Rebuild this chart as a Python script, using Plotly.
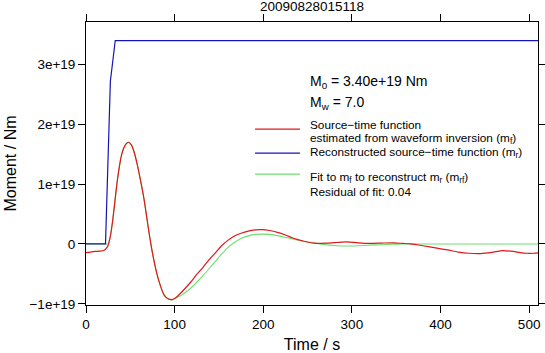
import plotly.graph_objects as go

# ---------------- data ----------------
title_text = "20090828015118"

# time samples (s)
t_f = [0, 5, 10, 15, 20, 23, 25, 27.5, 30, 32.5, 35, 37.5, 40, 42.5, 45, 48, 51, 54,
       57.5, 61, 65, 68, 71, 74, 77, 80, 84, 88, 92, 97, 102, 107, 112, 118, 125,
       132, 139, 146, 153, 160, 167, 175, 183, 191, 199, 207, 216, 225, 234, 245,
       260, 272, 283, 294, 307, 320, 333, 347, 357, 366, 380, 396, 408, 420, 432,
       445, 458, 470, 482, 490, 497, 505, 510]

# source-time function from waveform inversion (m_f), units of 1e19 Nm
m_f = [-0.145, -0.135, -0.125, -0.12, -0.11, -0.07, -0.02, 0.13, 0.38, 0.70, 1.02,
       1.28, 1.48, 1.60, 1.67, 1.70, 1.66, 1.55, 1.35, 1.10, 0.79, 0.50, 0.20, -0.07,
       -0.30, -0.50, -0.70, -0.85, -0.91, -0.93, -0.89, -0.82, -0.74, -0.64, -0.51,
       -0.39, -0.26, -0.15, -0.03, 0.06, 0.13, 0.18, 0.215, 0.235, 0.24, 0.225, 0.195,
       0.15, 0.095, 0.05, 0.01, 0.015, 0.025, 0.035, 0.02, 0.01, 0.015, 0.02, 0.01,
       0.0, -0.03, -0.07, -0.10, -0.135, -0.155, -0.16, -0.14, -0.11, -0.125, -0.145,
       -0.155, -0.155, -0.15]

# fit to m_f used to reconstruct m_r (m_rf), units of 1e19 Nm
m_rf = [0, 0, 0, 0, 0, 0, 0.0, 0.13, 0.38, 0.70, 1.02,
        1.28, 1.48, 1.60, 1.67, 1.70, 1.66, 1.55, 1.35, 1.10, 0.79, 0.50, 0.20, -0.07,
        -0.30, -0.50, -0.70, -0.85, -0.91, -0.935, -0.90, -0.86, -0.81, -0.74, -0.64,
        -0.53, -0.41, -0.29, -0.17, -0.06, 0.02, 0.09, 0.135, 0.16, 0.165, 0.16, 0.14,
        0.11, 0.08, 0.045, 0.01, -0.015, -0.03, -0.035, -0.03, -0.02, -0.012, -0.005,
        0.0, 0.0, 0.0, 0.0, 0.0, 0.0, 0.0, 0.0, 0.0, 0.0, 0.0, 0.0, 0.0, 0.0, 0.0]

# reconstructed source-time function (m_r)
t_r = [0, 22, 27.5, 33, 510]
m_r = [0, 0, 2.72, 3.40, 3.40]

scale = 1e19
x_ticks = [0, 100, 200, 300, 400, 500]
y_tickvals = [-1, 0, 1, 2, 3]
y_ticktext = ["\u22121e+19", "0", "1e+19", "2e+19", "3e+19"]

M0_text = "M<sub>0</sub> = 3.40e+19 Nm"
Mw_text = "M<sub>w</sub> = 7.0"
leg_f = ["Source\u2212time function", "estimated from waveform inversion (m<sub>f</sub>)"]
leg_r = "Reconstructed source\u2212time function (m<sub>r</sub>)"
leg_rf = ["Fit to m<sub>f</sub> to reconstruct m<sub>r</sub> (m<sub>rf</sub>)", "Residual of fit: 0.04"]

RED = "#e01818"
BLUE = "#1414b4"
GREEN = "#6ee06e"

# ---------------- figure ----------------
fig = go.Figure()
fig.add_trace(go.Scatter(x=t_f, y=[v * scale for v in m_rf], mode="lines",
                         line=dict(color=GREEN, width=1.1, shape="spline", smoothing=0.6),
                         hoverinfo="skip"))
fig.add_trace(go.Scatter(x=t_f, y=[v * scale for v in m_f], mode="lines",
                         line=dict(color=RED, width=1.2, shape="spline", smoothing=0.6),
                         hoverinfo="skip"))
fig.add_trace(go.Scatter(x=t_r, y=[v * scale for v in m_r], mode="lines",
                         line=dict(color=BLUE, width=1.2), hoverinfo="skip"))

L, R, T, B = 85.7, 545 - 538.3, 22.3, 353 - 305
W, H = 545, 353
pw, ph = W - L - R, H - T - B


def px(x):
    return (x - L) / pw


def py(y):
    return (H - B - y) / ph


FONT = "Liberation Sans, Arial, Helvetica, sans-serif"

annotations = [
    dict(text=title_text, x=0.5, y=py(6.8), xref="paper", yref="paper",
         showarrow=False, font=dict(size=13.5, color="black"), yanchor="middle"),
    dict(text=M0_text, x=px(308), y=py(82.5), xref="paper", yref="paper",
         showarrow=False, font=dict(size=14, color="black"), xanchor="left", yanchor="middle"),
    dict(text=Mw_text, x=px(308), y=py(103.5), xref="paper", yref="paper",
         showarrow=False, font=dict(size=14, color="black"), xanchor="left", yanchor="middle"),
    dict(text=leg_f[0], x=px(308), y=py(125.3), xref="paper", yref="paper",
         showarrow=False, font=dict(size=11.8, color="black"), xanchor="left", yanchor="middle"),
    dict(text=leg_f[1], x=px(308), y=py(138.6), xref="paper", yref="paper",
         showarrow=False, font=dict(size=11.8, color="black"), xanchor="left", yanchor="middle"),
    dict(text=leg_r, x=px(308), y=py(153), xref="paper", yref="paper",
         showarrow=False, font=dict(size=11.8, color="black"), xanchor="left", yanchor="middle"),
    dict(text=leg_rf[0], x=px(308), y=py(177.5), xref="paper", yref="paper",
         showarrow=False, font=dict(size=11.8, color="black"), xanchor="left", yanchor="middle"),
    dict(text=leg_rf[1], x=px(308), y=py(192.2), xref="paper", yref="paper",
         showarrow=False, font=dict(size=11.8, color="black"), xanchor="left", yanchor="middle"),
]

shapes = []
for yy, col in [(129.3, RED), (153.3, BLUE), (174.3, GREEN)]:
    shapes.append(dict(type="line", xref="paper", yref="paper",
                       x0=px(255), x1=px(300), y0=py(yy), y1=py(yy),
                       line=dict(color=col, width=1.2)))

fig.update_layout(
    width=W, height=H,
    margin=dict(l=L, r=R, t=T, b=B, pad=0),
    paper_bgcolor="white", plot_bgcolor="white",
    showlegend=False,
    font=dict(family=FONT, color="black"),
    annotations=annotations,
    shapes=shapes,
)
fig.update_xaxes(
    range=[0, 510], tickvals=x_ticks, ticks="outside", ticklen=7, tickwidth=1,
    tickcolor="black", showline=True, linecolor="black", linewidth=1,
    mirror="allticks", showgrid=False, zeroline=False,
    tickfont=dict(size=13.5, family=FONT),
    title=dict(text="Time / s", font=dict(size=16, family=FONT), standoff=11),
    automargin=False,
)
fig.update_yaxes(
    range=[-1.02e19, 3.71e19], tickvals=[v * scale for v in y_tickvals],
    ticktext=y_ticktext, ticks="outside", ticklen=7, tickwidth=1,
    tickcolor="black", showline=True, linecolor="black", linewidth=1,
    mirror="allticks", showgrid=False, zeroline=False,
    tickfont=dict(size=13.5, family=FONT),
    title=dict(text="Moment / Nm", font=dict(size=16, family=FONT), standoff=8),
    automargin=False,
)

fig.write_html("out.html")
